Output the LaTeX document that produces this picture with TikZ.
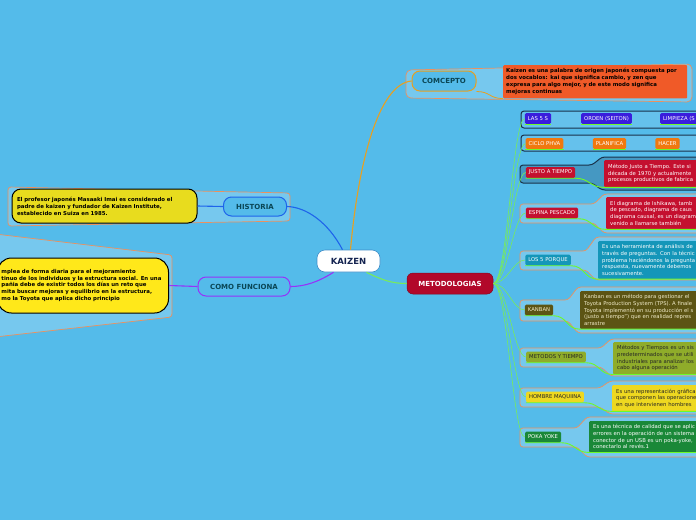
\documentclass[tikz,border=0pt]{standalone}
\usepackage{fontspec}
\setmainfont{DejaVu Sans}
\usepackage{tikz}
\usetikzlibrary{positioning}
\definecolor{bgblue}{RGB}{84,187,234}
\definecolor{kzborder}{RGB}{60,140,200}
\definecolor{kztext}{RGB}{20,35,80}
\definecolor{titlecol}{RGB}{10,70,85}
\definecolor{metred}{RGB}{178,8,42}
\definecolor{concorange}{RGB}{232,160,32}
\definecolor{histblue}{RGB}{30,100,235}
\definecolor{comopurple}{RGB}{150,50,250}
\definecolor{frameorange}{RGB}{235,145,95}
\definecolor{darkframe}{RGB}{25,50,75}
\definecolor{conctxt}{RGB}{240,90,40}
\definecolor{histyellow}{RGB}{232,220,30}
\definecolor{comoyellow}{RGB}{255,232,26}
\definecolor{cfives}{RGB}{58,30,220}
\definecolor{cphva}{RGB}{240,120,15}
\definecolor{justred}{RGB}{196,16,47}
\definecolor{cporque}{RGB}{20,150,185}
\definecolor{ckanban}{RGB}{92,84,20}
\definecolor{cmetodos}{RGB}{143,172,42}
\definecolor{chombre}{RGB}{238,216,32}
\definecolor{cpoka}{RGB}{26,136,56}
\definecolor{fangreen}{RGB}{120,235,90}
\definecolor{ulgreen}{RGB}{110,250,40}
\definecolor{cream}{RGB}{240,235,200}
% frame round one methodology: style, label top, label bottom, break x, box top, box bottom
\newcommand{\metframe}[6]{%
  \draw[frame,#1] (520,#2) -- (#4,#2) -- ({#4+10},#5) -- (702,#5)
    -- (702,#6) -- ({#4+10},#6) -- (#4,#3) -- (520,#3) -- cycle;}

\begin{document}
\begin{tikzpicture}[x=1pt,y=-1pt,
    main/.style={draw,rounded corners=8pt,line width=1pt,fill=bgblue,
      font=\fontsize{7}{8}\selectfont\bfseries,text=titlecol,
      minimum height=19pt,inner xsep=6pt},
    lab/.style={rounded corners=1.5pt,font=\fontsize{5.3}{6}\selectfont,
      text=white,minimum height=11pt,inner xsep=3pt,inner ysep=1pt},
    txtbox/.style={anchor=north west,rounded corners=1pt,align=left,
      text width=140pt,inner xsep=4pt,
      font=\fontsize{5.3}{6.7}\selectfont,text=white},
    boldtxt/.style={align=left,font=\fontsize{5.4}{7}\selectfont\bfseries,text=black},
    frame/.style={line width=0.7pt,rounded corners=3pt,fill=white,fill opacity=0.2},
    fan/.style={draw=fangreen,line width=0.6pt},
    uline/.style={draw=ulgreen,line width=0.9pt},
    link/.style={line width=1.1pt}
  ]
  \useasboundingbox (0,0) rectangle (696,520);
  \clip (0,0) rectangle (696,520);
  \fill[bgblue] (0,0) rectangle (696,520);

  % frames
  \draw[frame,draw=frameorange,rounded corners=5pt] (406,70) -- (692,64) -- (692,102) -- (406,98) -- cycle;
  \draw[frame,draw=frameorange] (8,187) -- (290,193) -- (290,221) -- (8,226) -- cycle;
  \draw[frame,draw=frameorange] (-5,234) -- (172,255) -- (172,317) -- (-5,337) -- cycle;
  \draw[frame,draw=darkframe,line width=1pt,fill opacity=0.1] (521,111) rectangle (702,128);
  \draw[frame,draw=darkframe,line width=1pt,fill opacity=0.1] (521,135) rectangle (702,151);
  \metframe{draw=darkframe,line width=1pt,fill=darkframe,fill opacity=0.25}{165}{183}{592}{157}{190}
  \metframe{draw=frameorange}{204}{223}{594}{194}{233}
  \metframe{draw=frameorange}{251}{270}{586}{237}{280}
  \metframe{draw=frameorange}{300}{321}{568}{287}{333}
  \metframe{draw=frameorange}{348}{367}{601}{339}{376}
  \metframe{draw=frameorange}{388}{407}{600}{381}{414}
  \metframe{draw=frameorange}{428}{447}{577}{417}{457}

  % main topics
  \node[main,fill=white,draw=kzborder,text=kztext,line width=0.6pt,
    font=\fontsize{8.5}{10}\selectfont\bfseries,
    minimum width=63pt,minimum height=22pt] (kaizen) at (348.5,261) {KAIZEN};
  \node[main,fill=metred,draw=metred!75!black,text=white,line width=0.5pt,
    rounded corners=6pt,minimum width=86pt,minimum height=21pt] (metodo) at (450,283.5) {METODOLOGIAS};
  \node[main,draw=concorange,minimum width=64pt,minimum height=20pt] (concepto) at (444,81) {COMCEPTO};
  \node[main,draw=histblue,minimum width=63pt] (historia) at (255,206.5) {HISTORIA};
  \node[main,draw=comopurple,minimum width=92pt] (como) at (244,286.5) {COMO FUNCIONA};

  % texts of the left side and the concept
  \node[boldtxt,anchor=north west,fill=conctxt,rounded corners=1pt,text width=178pt,
    inner xsep=3pt,minimum height=31pt] (conctext) at (503,65)
    {Kaizen es una palabra de origen japonés compuesta por\\
     dos vocablos: kai que significa cambio, y zen que\\
     expresa para algo mejor, y de este modo significa\\
     mejoras continuas};
  \node[boldtxt,draw=black,line width=1pt,fill=histyellow,rounded corners=9pt,
    text width=175pt,inner xsep=5pt,minimum height=34pt] (histtext) at (104.5,206)
    {El profesor japonés Masaaki Imai es considerado el\\
     padre de kaizen y fundador de Kaizen Institute,\\
     establecido en Suiza en 1985.};
  \node[boldtxt,anchor=west,draw=black,line width=1pt,fill=comoyellow,rounded corners=14pt,
    text width=163pt,inner xsep=4pt,minimum height=55pt,
    font=\fontsize{5.4}{6.6}\selectfont\bfseries] (comotext) at (-3,285.5)
    {mplea de forma diaria para el mejoramiento\\
     tinuo de los individuos y la estructura social. En una\\
     pañia debe de existir todos los días un reto que\\
     mita buscar mejoras y equilibrio en la estructura,\\
     mo la Toyota que aplica dicho principio};

  % methodologies
  \node[lab,fill=cfives] (las) at (538,118.5) {LAS 5 S};
  \node[lab,fill=cfives] (orden) at (606.5,118.5) {ORDEN (SEITON)};
  \node[lab,fill=cfives,anchor=west] (limpieza) at (660,118.5) {LIMPIEZA (S};
  \node[lab,fill=cphva] (ciclo) at (544.5,143.5) {CICLO PHVA};
  \node[lab,fill=cphva] (planifica) at (609.5,143.5) {PLANIFICA};
  \node[lab,fill=cphva] (hacer) at (667.5,143.5) {HACER};
  \node[lab,fill=justred] (justo) at (550.5,172.5) {JUSTO A TIEMPO};
  \node[lab,fill=justred] (espina) at (552,213) {ESPINA PESCADO};
  \node[lab,fill=cporque] (porque) at (548,260) {LOS 5 PORQUE};
  \node[lab,fill=ckanban,text=cream] (kanban) at (539,310) {KANBAN};
  \node[lab,fill=cmetodos,text=black!85] (metodos) at (556,357) {METODOS Y TIEMPO};
  \node[lab,fill=chombre,text=black!85] (hombre) at (555,397) {HOMBRE MAQUIINA};
  \node[lab,fill=cpoka] (poka) at (543,437) {POKA YOKE};

  \node[txtbox,fill=justred,minimum height=27pt] (justotxt) at (604,160)
    {Método Justo a Tiempo. Este si\\
     década de 1970 y actualmente\\
     procesos productivos de fabrica};
  \node[txtbox,fill=justred,minimum height=32pt] (espinatxt) at (606,197)
    {El diagrama de Ishikawa, tamb\\
     de pescado, diagrama de caus\\
     diagrama causal, es un diagram\\
     venido a llamarse también};
  \node[txtbox,fill=cporque,minimum height=35pt] (porquetxt) at (598,241)
    {Es una herramienta de análisis de\\
     través de preguntas. Con la técnic\\
     problema haciéndonos la pregunta\\
     respuesta, nuevamente debemos\\
     sucesivamente.};
  \node[txtbox,fill=ckanban,text=cream,minimum height=37pt] (kanbantxt) at (580,291)
    {Kanban es un método para gestionar el\\
     Toyota Production System (TPS). A finale\\
     Toyota implementó en su producción el s\\
     (justo a tiempo”) que en realidad repres\\
     arrastre};
  \node[txtbox,fill=cmetodos,text=black!85,minimum height=31pt] (metodostxt) at (613,342)
    {Métodos y Tiempos es un sis\\
     predeterminados que se utili\\
     industriales para analizar los\\
     cabo alguna operación};
  \node[txtbox,fill=chombre,text=black!85,minimum height=26pt] (hombretxt) at (612,385)
    {Es una representación gráfica\\
     que componen las operacione\\
     en que intervienen hombres};
  \node[txtbox,fill=cpoka,minimum height=31pt] (pokatxt) at (589,421)
    {Es una técnica de calidad que se aplic\\
     errores en la operación de un sistema\\
     conector de un USB es un poka-yoke,\\
     conectarlo al revés.1};

  % links from the centre
  \draw[link,draw=concorange] ([xshift=2pt]kaizen.north) .. controls (358,165) and (378,84) .. (concepto.west);
  \draw[link,draw=histblue] ([xshift=-6pt]kaizen.north) .. controls (328,222) and (306,207) .. (historia.east);
  \draw[link,draw=comopurple] ([xshift=-15pt]kaizen.south) .. controls (318,282) and (305,286.5) .. (como.east);
  \draw[link,draw=fangreen] ([xshift=18pt]kaizen.south) .. controls (382,280) and (392,283.5) .. (metodo.west);
  \draw[link,draw=histblue] (historia.west) -- (histtext.east);
  \draw[link,draw=comopurple] (como.west) -- (comotext.east);
  \draw[draw=concorange,line width=0.8pt] (concepto.south east) .. controls +(14,0) and +(-14,0) .. (conctext.south west);

  % fan of methodologies
  \foreach \m in {las,ciclo,justo,espina,porque,kanban,metodos,hombre,poka}
    \draw[fan] (metodo.east) .. controls +(14,0) and +(-12,0) .. (\m.west);
  \foreach \m in {las,orden,limpieza,ciclo,planifica,hacer}
    \draw[uline] (\m.south west) -- (\m.south east);
  \foreach \m in {justo,espina,porque,kanban,metodos,hombre,poka}
    \draw[uline] (\m.south west) -- (\m.south east)
      .. controls +(14,0) and +(-14,0) .. (\m txt.south west) -- (\m txt.south east);
\end{tikzpicture}
\end{document}
